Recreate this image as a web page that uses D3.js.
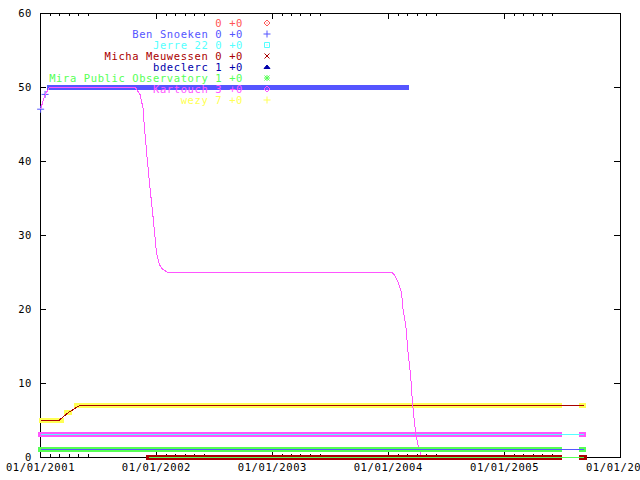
<!DOCTYPE html>
<html><head><meta charset="utf-8">
<script src="https://cdn.jsdelivr.net/npm/d3@7"></script>
<style>
html,body{margin:0;padding:0;background:#fff;}
svg{display:block;}
text{font-family:"DejaVu Sans Mono","Liberation Mono",monospace;font-size:10.5px;letter-spacing:0.6px;}
</style></head><body>
<svg id="chart" width="640" height="480"></svg>
<script>
// ---------------- data ----------------
const observers     = ["", "Ben Snoeken", "Jerre 22", "Micha Meuwessen", "bdeclerc", "Mira Public Observatory", "Kartouch", "wezy"];
const currentCounts = [0, 0, 0, 0, 1, 1, 3, 7];
const changes       = [0, 0, 0, 0, 0, 0, 0, 0];
const symbols       = ["diamond", "plus", "square", "cross", "triangle", "star", "diamond", "plus"];
const xTickDates    = ["2001-01-01", "2002-01-01", "2003-01-01", "2004-01-01", "2005-01-01", "2006-01-01"];
const xTickLabels   = ["01/01/2001", "01/01/2002", "01/01/2003", "01/01/2004", "01/01/2005", "01/01/2006"];
const yTickValues   = [0, 10, 20, 30, 40, 50, 60];

// daily point runs: [first day, last day, count]
const ptsEmpty       = [["2001-12-10", "2005-06-26", 0], ["2005-09-01", "2005-09-09", 0]];
const ptsBenSnoeken  = [["2001-01-03", "2001-01-03", 47], ["2001-01-17", "2001-01-17", 49], ["2001-01-31", "2004-03-01", 50]];
const ptsJerre22     = [["2001-12-10", "2005-06-26", 0], ["2005-09-01", "2005-09-10", 0]];
const ptsMicha       = [["2001-12-10", "2005-06-26", 0], ["2005-09-01", "2005-09-10", 0]];
const ptsBdeclerc    = [["2001-01-02", "2005-06-26", 1], ["2005-09-01", "2005-09-09", 1]];
const ptsMira        = [["2001-01-03", "2005-06-26", 1], ["2005-09-01", "2005-09-09", 1]];
const ptsKartouch    = [["2001-01-03", "2005-06-25", 3], ["2005-09-02", "2005-09-09", 3]];
const ptsWezy        = [["2001-01-05", "2001-03-10", 5], ["2001-03-24", "2001-04-05", 6], ["2001-04-26", "2005-06-25", 7], ["2005-09-02", "2005-09-09", 7]];

// connecting line traces: [day, count]
const lineKartouch = [["2001-01-03", 47], ["2001-01-17", 49], ["2001-02-01", 50], ["2001-10-27", 50], ["2001-11-01", 49.7],
  ["2001-11-12", 49], ["2001-11-22", 47], ["2001-11-24", 45.5], ["2001-12-03", 41], ["2001-12-13", 36.5], ["2001-12-24", 32],
  ["2002-01-03", 27.5], ["2002-01-12", 26], ["2002-01-19", 25.5], ["2002-02-04", 25], ["2004-01-12", 25], ["2004-01-20", 24.7],
  ["2004-02-02", 23.7], ["2004-02-13", 22.2], ["2004-02-18", 20], ["2004-02-27", 17.6], ["2004-03-05", 14], ["2004-03-13", 11],
  ["2004-03-18", 7.7], ["2004-03-23", 5.4], ["2004-03-29", 3.2], ["2004-04-05", 1.6], ["2004-04-16", 0], ["2005-09-09", 0]];
const lineMicha  = [["2001-01-03", 5], ["2001-03-03", 5], ["2001-03-31", 6], ["2001-05-07", 7], ["2005-09-09", 7]];
const lineJerre  = [["2001-01-03", 3], ["2005-09-10", 3]];
const lineBen    = [["2001-01-03", 1], ["2005-09-10", 1]];
const lineMira   = [["2001-12-10", 0], ["2005-09-10", 0]];

// ---------------- styles ----------------
const colors = ["#ff5555", "#5555ff", "#55ffff", "#aa0000", "#0000aa", "#55ff55", "#ff55ff", "#ffff55"];

const parse = d3.utcParse("%Y-%m-%d");
const svg = d3.select("#chart");
const x = d3.scaleUtc().domain([parse("2001-01-01"), parse("2006-01-01")]).range([40, 620]);
const y = d3.scaleLinear().domain([0, 60]).range([457, 13]);

// border
svg.append("rect").attr("x", 40).attr("y", 13).attr("width", 580).attr("height", 444)
  .attr("fill", "none").attr("stroke", "#000").attr("shape-rendering", "crispEdges");

// minor ticks: Feb..Jun of each year
const minorDates = [];
for (let yr = 2001; yr <= 2005; yr++) for (let m = 1; m <= 5; m++) minorDates.push(new Date(Date.UTC(yr, m, 1)));
const majorDates = xTickDates.map(parse);

function styleAxis(g) {
  g.select(".domain").remove();
  g.selectAll("line").attr("stroke", "#000").attr("shape-rendering", "crispEdges");
  g.selectAll("text").attr("fill", "#000").style("font-family", null).style("font-size", null)
    .attr("font-family", null).attr("font-size", null);
}
svg.append("g").attr("transform", "translate(0,457)")
  .call(d3.axisBottom(x).tickValues(majorDates).tickFormat((d, i) => xTickLabels[i]).tickSize(-6).tickPadding(7))
  .call(styleAxis);
svg.append("g").attr("transform", "translate(0,457)")
  .call(d3.axisBottom(x).tickValues(minorDates).tickFormat("").tickSize(-3)).call(styleAxis);
svg.append("g").attr("transform", "translate(0,13)")
  .call(d3.axisTop(x).tickValues(majorDates.slice(0, 5)).tickFormat("").tickSize(-6)).call(styleAxis);
svg.append("g").attr("transform", "translate(0,13)")
  .call(d3.axisTop(x).tickValues(minorDates).tickFormat("").tickSize(-3)).call(styleAxis);
svg.append("g").attr("transform", "translate(40,0)")
  .call(d3.axisLeft(y).tickValues(yTickValues).tickSize(-6).tickPadding(8)).call(styleAxis);
svg.append("g").attr("transform", "translate(620,0)")
  .call(d3.axisRight(y).tickValues(yTickValues).tickFormat("").tickSize(-6)).call(styleAxis);
svg.selectAll("text").attr("fill", "#000");

// symbol drawing
function symbolPath(type, cx, cy) {
  switch (type) {
    case "diamond": return `M${cx - 3},${cy}L${cx},${cy - 3}L${cx + 3},${cy}L${cx},${cy + 3}Z M${cx - 0.5},${cy}h1`;
    case "plus": return `M${cx - 3.5},${cy}H${cx + 3.5}M${cx},${cy - 3.5}V${cy + 3.5}`;
    case "square": return `M${cx - 2.5},${cy - 2.5}h5v5h-5Z M${cx - 0.5},${cy}h1`;
    case "cross": return `M${cx - 2.5},${cy - 2.5}L${cx + 2.5},${cy + 2.5}M${cx + 2.5},${cy - 2.5}L${cx - 2.5},${cy + 2.5}`;
    case "triangle": return `M${cx - 3},${cy + 1.5}L${cx + 3},${cy + 1.5}L${cx},${cy - 2}Z`;
    case "star": return `M${cx - 3},${cy}H${cx + 3}M${cx},${cy - 3}V${cy + 3}M${cx - 2.5},${cy - 2.5}L${cx + 2.5},${cy + 2.5}M${cx + 2.5},${cy - 2.5}L${cx - 2.5},${cy + 2.5}`;
  }
}
function drawSymbol(g, type, cx, cy, color) {
  g.append("path").attr("d", symbolPath(type, cx, cy))
    .attr("fill", type === "triangle" ? color : "none").attr("stroke", color).attr("stroke-width", 1);
}

const dataG = svg.append("g");
function drawPoints(runs, si) {
  const g = dataG.append("g");
  runs.forEach(r => {
    const x0 = x(parse(r[0])), x1 = x(parse(r[1])), yy = y(r[2]);
    if (r[0] === r[1]) { drawSymbol(g, symbols[si], x0, yy, colors[si]); return; }
    g.append("rect").attr("x", x0 - 2.5).attr("y", yy - 2.5).attr("width", x1 - x0 + 5).attr("height", 5)
      .attr("fill", colors[si]).attr("shape-rendering", "crispEdges");
  });
}
const line = d3.line().x(d => x(parse(d[0]))).y(d => y(d[1]));
function drawLine(data, si) {
  dataG.append("path").datum(data).attr("d", line).attr("fill", "none")
    .attr("stroke", colors[si]).attr("stroke-width", 1).attr("shape-rendering", "crispEdges");
}

// layering (bottom to top)
drawPoints(ptsEmpty, 0);
drawPoints(ptsJerre22, 2);
drawPoints(ptsBdeclerc, 4);
drawPoints(ptsWezy, 7);
drawLine(lineMicha, 3);
drawPoints(ptsKartouch, 6);
drawLine(lineJerre, 2);
drawPoints(ptsBenSnoeken, 1);
drawLine(lineKartouch, 6);
drawPoints(ptsMira, 5);
drawLine(lineBen, 1);
drawPoints(ptsMicha, 3);
drawLine(lineMira, 5);

// legend
const legG = svg.append("g");
observers.forEach((name, i) => {
  const cy = 23 + 11 * i;
  legG.append("text").attr("x", 243).attr("y", cy).attr("dy", "0.35em").attr("text-anchor", "end")
    .attr("fill", colors[i]).text((name ? name + " " : "") + currentCounts[i] + " +" + changes[i]);
  drawSymbol(legG, symbols[i], 267, cy, colors[i]);
});
</script>
</body></html>
